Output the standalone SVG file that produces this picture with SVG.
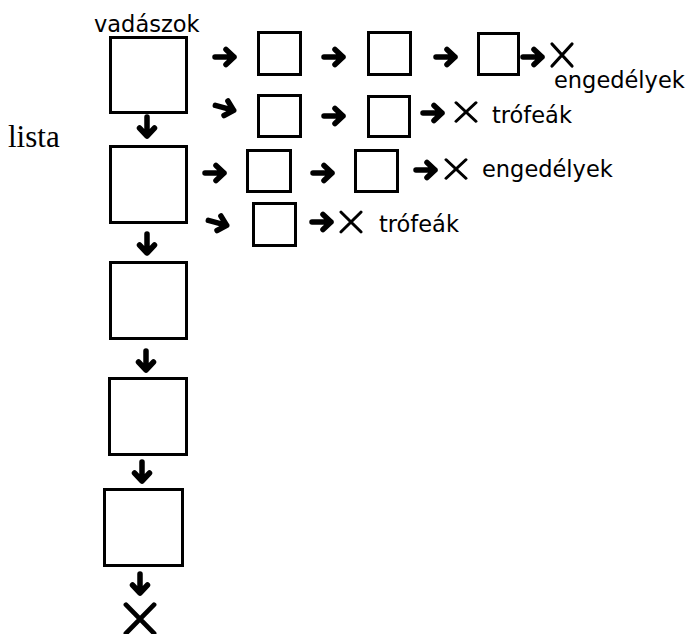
<svg xmlns="http://www.w3.org/2000/svg" xmlns:xlink="http://www.w3.org/1999/xlink" width="691" height="634" viewBox="0 0 691 634">
<style>
.box{fill:#fff;stroke:#000;stroke-width:3}
.arr{fill:none;stroke:#000;stroke-width:5.5;stroke-linecap:round;stroke-linejoin:round}
.x{fill:none;stroke:#000;stroke-width:3.2;stroke-linecap:round}
.lbl{font-family:"DejaVu Sans",Verdana,sans-serif;font-size:22.5px;fill:#000}
.ser{font-family:"Liberation Serif","Times New Roman",serif;font-size:31px;fill:#000}
</style>
<defs>
<path id="ar" d="M-10,0 H9 M1,-7.5 L9,0 L1,7.5"/>
<path id="xx" d="M-10,-11 L10,11 M10,-11 L-10,11"/>
</defs>
<rect width="691" height="634" fill="#fff"/>
<text class="ser" x="8" y="147">lista</text>
<g id="n1"><rect class="box" x="110.5" y="37.5" width="76" height="75"/><text class="lbl" x="94" y="32">vadászok</text></g>
<g id="n2"><rect class="box" x="110.5" y="146.5" width="76" height="76"/></g>
<g id="n3"><rect class="box" x="110.5" y="262.5" width="76" height="76"/></g>
<g id="n4"><rect class="box" x="109.5" y="378.5" width="77" height="76"/></g>
<g id="n5"><rect class="box" x="104.5" y="489.5" width="78" height="76"/></g>
<g id="r1a"><rect class="box" x="258.5" y="32.5" width="42" height="42"/></g>
<g id="r1b"><rect class="box" x="368.5" y="32.5" width="42" height="42"/></g>
<g id="r1c"><rect class="box" x="478.5" y="33.5" width="40" height="41"/></g>
<g id="r2a"><rect class="box" x="258.5" y="95.5" width="42" height="41"/></g>
<g id="r2b"><rect class="box" x="368.5" y="96.5" width="41" height="40"/></g>
<g id="r3a"><rect class="box" x="247.5" y="150.5" width="43" height="41"/></g>
<g id="r3b"><rect class="box" x="355.5" y="150.5" width="42" height="41"/></g>
<g id="r4a"><rect class="box" x="253.5" y="203.5" width="42" height="42"/></g>
<g id="ends">
<use href="#xx" class="x" transform="translate(562,55)"/>
<text class="lbl" x="554" y="88">engedélyek</text>
<use href="#xx" class="x" transform="translate(466,112) scale(1,0.85)"/>
<text class="lbl" x="492" y="123">trófeák</text>
<use href="#xx" class="x" transform="translate(456,169) scale(1,0.85)"/>
<text class="lbl" x="482" y="177">engedélyek</text>
<use href="#xx" class="x" transform="translate(351,222) scale(1,0.9)"/>
<text class="lbl" x="379" y="232">trófeák</text>
<use href="#xx" class="x" transform="translate(140,619) scale(1.4,1.3)" style="stroke-width:3.5"/>
</g>
<g id="connectors">
<use href="#ar" class="arr" transform="translate(225,57)"/>
<use href="#ar" class="arr" transform="translate(334,57)"/>
<use href="#ar" class="arr" transform="translate(446,57)"/>
<use href="#ar" class="arr" transform="translate(533,57)"/>
<use href="#ar" class="arr" transform="translate(225,108) rotate(15)"/>
<use href="#ar" class="arr" transform="translate(334,116)"/>
<use href="#ar" class="arr" transform="translate(433,113)"/>
<use href="#ar" class="arr" transform="translate(215,173)"/>
<use href="#ar" class="arr" transform="translate(323,173)"/>
<use href="#ar" class="arr" transform="translate(426,170)"/>
<use href="#ar" class="arr" transform="translate(218,223) rotate(15)"/>
<use href="#ar" class="arr" transform="translate(322,222)"/>
<use href="#ar" class="arr" transform="translate(147,127) rotate(90)"/>
<use href="#ar" class="arr" transform="translate(147,244) rotate(90)"/>
<use href="#ar" class="arr" transform="translate(146,361) rotate(90)"/>
<use href="#ar" class="arr" transform="translate(142,472) rotate(90)"/>
<use href="#ar" class="arr" transform="translate(140,584) rotate(90)"/>
</g>
</svg>
